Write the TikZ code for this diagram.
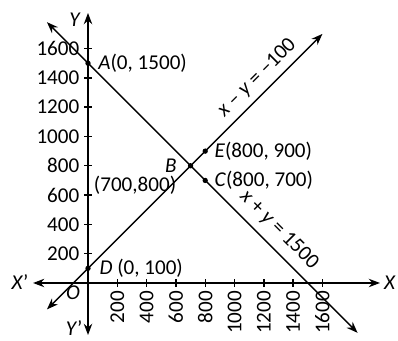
\documentclass[tikz,border=0pt]{standalone}
\usepackage{fontspec}
\setmainfont{Carlito}
\usetikzlibrary{arrows.meta,positioning}
\tikzset{
  tip/.style={-{Stealth[length=8pt,width=6pt]}},
  dot/.style={circle,fill,inner sep=0pt,minimum size=3.8pt},
  lbl/.style={inner sep=1pt}
}
\begin{document}
\begin{tikzpicture}[x=0.36625cm,y=0.36625cm,line width=1pt,font=\fontsize{15}{18}\selectfont]
\useasboundingbox (-6.007,-3.959) rectangle (21.16,19.317);
\coordinate (xl) at (-3.75,0);
\coordinate (xr) at (19.93,0);
\coordinate (yb) at (0,-3.55);
\coordinate (yt) at (0,18.43);
\draw[{Stealth[length=8pt,width=6pt]}-{Stealth[length=8pt,width=6pt]}] (xl) -- (xr);
\draw[{Stealth[length=8pt,width=6pt]}-{Stealth[length=8pt,width=6pt]}] (yb) -- (yt);
\foreach \k in {2,4,...,16} {
  \draw (\k,0.27) -- (\k,-0.27);
  \node[rotate=90,anchor=east,lbl] at (\k,-0.4) {\k00};
  \draw (0.27,\k) -- (-0.27,\k);
  \node[anchor=east,lbl] at (-0.45,\k) {\k00};
}
\node (x) at (20.61,0) {\textit{X}};
\node (x') at (-4.64,0.07) {\textit{X}'};
\node (y) at (-0.89,17.95) {\textit{Y}};
\node[lbl] (y') at (-0.95,-3.1) {\textit{Y}'};
\node (o) at (-1.02,-0.68) {\textit{O}};
\coordinate (p1) at (-2.8,17.8);
\coordinate (p2) at (18.4,-3.4);
\coordinate (q1) at (-2.8,-1.8);
\coordinate (q2) at (16,17);
\draw[{Stealth[length=8pt,width=6pt]}-{Stealth[length=8pt,width=6pt]}] (p1) -- (p2);
\draw[{Stealth[length=8pt,width=6pt]}-{Stealth[length=8pt,width=6pt]}] (q1) -- (q2);
\node[dot] (a) at (0,15) {};
\node[dot] (b) at (7,8) {};
\node[dot] (c) at (8,7) {};
\node[dot] (d) at (0,1) {};
\node[dot] (e) at (8,9) {};
\node[lbl,right=3.5pt of a] {\textit{A}(0, 1500)};
\node[lbl,left=6pt of b] {\textit{B}};
\node[lbl,right=2.8pt of c] {\textit{C}(800, 700)};
\node[lbl,right=4.3pt of d] {\textit{D} (0, 100)};
\node[lbl,right=2.8pt of e] {\textit{E}(800, 900)};
\node[lbl] (bb) at (3.21,6.69) {(700,800)};
\node[lbl,rotate=45] (l1) at (11.54,13.99) {\textit{x} -- \textit{y} = --100};
\node[lbl,rotate=-45] (l2) at (13.04,3.62) {\textit{x} + \textit{y} = 1500};
\end{tikzpicture}
\end{document}
